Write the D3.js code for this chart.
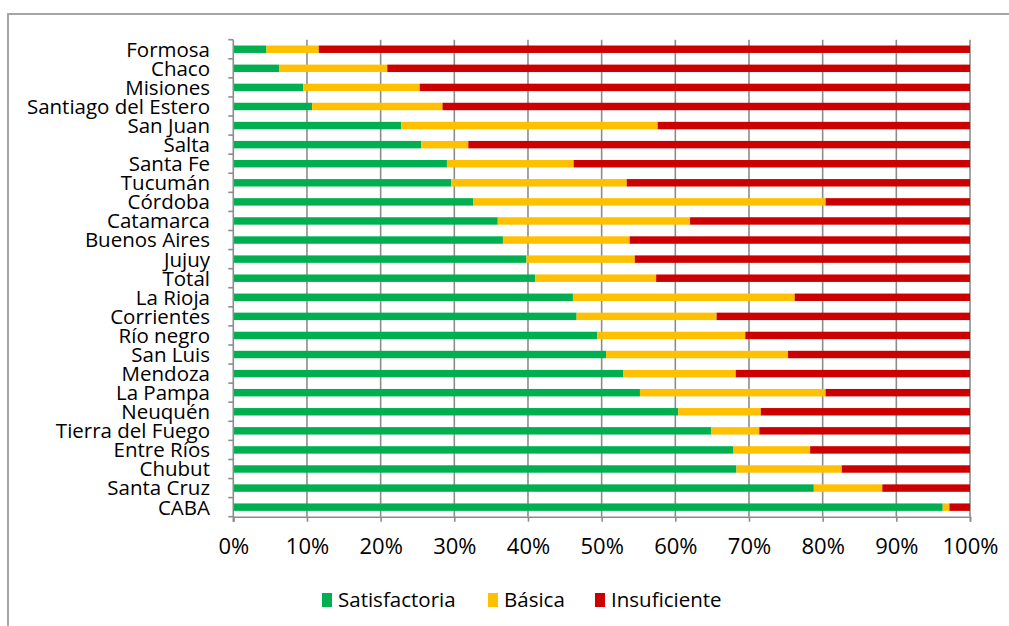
<!DOCTYPE html>
<html>
<head>
<meta charset="utf-8">
<script src="https://cdn.jsdelivr.net/npm/d3@7/dist/d3.min.js"></script>
<style>
  html, body { margin: 0; padding: 0; background: #fff; }
  svg { display: block; font-family: "Open Sans", "Noto Sans", sans-serif; }
</style>
</head>
<body>
<svg id="chart" width="1009" height="626"></svg>
<script>
// Provinces, top to bottom
const provinces = ["Formosa", "Chaco", "Misiones", "Santiago del Estero", "San Juan", "Salta",
  "Santa Fe", "Tucumán", "Córdoba", "Catamarca", "Buenos Aires", "Jujuy", "Total", "La Rioja",
  "Corrientes", "Río negro", "San Luis", "Mendoza", "La Pampa", "Neuquén", "Tierra del Fuego",
  "Entre Ríos", "Chubut", "Santa Cruz", "CABA"];

// Share of each level (%)
const satisfactoria = [4.5, 6.2, 9.5, 10.7, 22.8, 25.5, 29.0, 29.6, 32.6, 35.9, 36.6, 39.8, 41.0,
  46.1, 46.6, 49.4, 50.6, 52.9, 55.2, 60.4, 64.9, 67.9, 68.3, 78.8, 96.3];
const basica = [7.1, 14.7, 15.8, 17.7, 34.8, 6.4, 17.2, 23.8, 47.8, 26.1, 17.2, 14.7, 16.4,
  30.1, 19.0, 20.1, 24.7, 15.3, 25.2, 11.2, 6.5, 10.4, 14.3, 9.3, 0.9];
const insuficiente = [88.4, 79.1, 74.7, 71.6, 42.4, 68.1, 53.8, 46.6, 19.6, 38.0, 46.2, 45.5, 42.6,
  23.8, 34.4, 30.5, 24.7, 31.8, 19.6, 28.4, 28.6, 21.7, 17.4, 11.9, 2.8];

const seriesNames = ["Satisfactoria", "Básica", "Insuficiente"];
const seriesColors = ["#00B050", "#FFC000", "#CC0000"];
const xTicks = [0, 10, 20, 30, 40, 50, 60, 70, 80, 90, 100];

const svg = d3.select("#chart");
const axisColor = "#8C8C8C";

// Outer frame
svg.append("rect")
  .attr("x", 8).attr("y", 14).attr("width", 1100).attr("height", 700)
  .attr("fill", "none").attr("stroke", "#A6A6A6").attr("stroke-width", 2);

const plotLeft = 233.3, plotRight = 970, plotTop = 39.7, plotBottom = 516.7;

const x = d3.scaleLinear().domain([0, 100]).range([plotLeft, plotRight]);
const y = d3.scaleBand().domain(provinces).range([plotTop, plotBottom]).paddingInner(0.61).paddingOuter(0.305);

// Vertical gridlines
svg.append("g").selectAll("line").data(xTicks.slice(1)).join("line")
  .attr("x1", d => x(d)).attr("x2", d => x(d))
  .attr("y1", plotTop).attr("y2", plotBottom)
  .attr("stroke", axisColor).attr("stroke-width", 1.6);

// Stacked bars
const rows = provinces.map((p, i) => ({ p, vals: [satisfactoria[i], basica[i], insuficiente[i]] }));
const stack = d3.stack().keys([0, 1, 2]).value((d, k) => d.vals[k]);
const layers = stack(rows);

svg.append("g").selectAll("g").data(layers).join("g")
  .attr("fill", (d, i) => seriesColors[i])
  .selectAll("rect").data(d => d).join("rect")
  .attr("x", d => x(d[0]))
  .attr("width", d => Math.max(0, x(d[1]) - x(d[0])))
  .attr("y", d => y(d.data.p))
  .attr("height", y.bandwidth());

// Y axis line and ticks at category boundaries
const yAxisG = svg.append("g");
yAxisG.append("line")
  .attr("x1", plotLeft).attr("x2", plotLeft).attr("y1", plotTop).attr("y2", plotBottom + 5)
  .attr("stroke", axisColor).attr("stroke-width", 1.6);
const step = (plotBottom - plotTop) / provinces.length;
yAxisG.selectAll("line.tk").data(d3.range(provinces.length + 1)).join("line")
  .attr("class", "tk")
  .attr("x1", plotLeft - 5).attr("x2", plotLeft)
  .attr("y1", i => plotTop + i * step).attr("y2", i => plotTop + i * step)
  .attr("stroke", axisColor).attr("stroke-width", 1.6);

yAxisG.selectAll("text").data(provinces).join("text")
  .attr("x", 210).attr("y", d => y(d) + y.bandwidth() / 2)
  .attr("dy", "0.36em")
  .attr("text-anchor", "end")
  .attr("font-size", 20.5).attr("fill", "#000")
  .text(d => d);

// X axis
const xAxis = d3.axisBottom(x).tickValues(xTicks).tickFormat(d => d + "%").tickSize(5).tickPadding(17);
const xAxisG = svg.append("g").attr("transform", `translate(0,${plotBottom})`).call(xAxis);
xAxisG.select(".domain").attr("stroke", axisColor).attr("stroke-width", 1.6);
xAxisG.selectAll(".tick line").attr("stroke", axisColor).attr("stroke-width", 1.6);
xAxisG.selectAll(".tick text").attr("font-size", 22).attr("fill", "#000")
  .attr("font-family", '"Open Sans", sans-serif');

// Legend
const legendX = [322, 488, 595];
const legend = svg.append("g").selectAll("g").data(seriesNames).join("g")
  .attr("transform", (d, i) => `translate(${legendX[i]},593)`);
legend.append("rect").attr("width", 10).attr("height", 14).attr("fill", (d, i) => seriesColors[i]);
legend.append("text").attr("x", 16).attr("y", 7).attr("dy", "0.36em")
  .attr("font-size", 20.5).attr("fill", "#000").text(d => d);
</script>
</body>
</html>
